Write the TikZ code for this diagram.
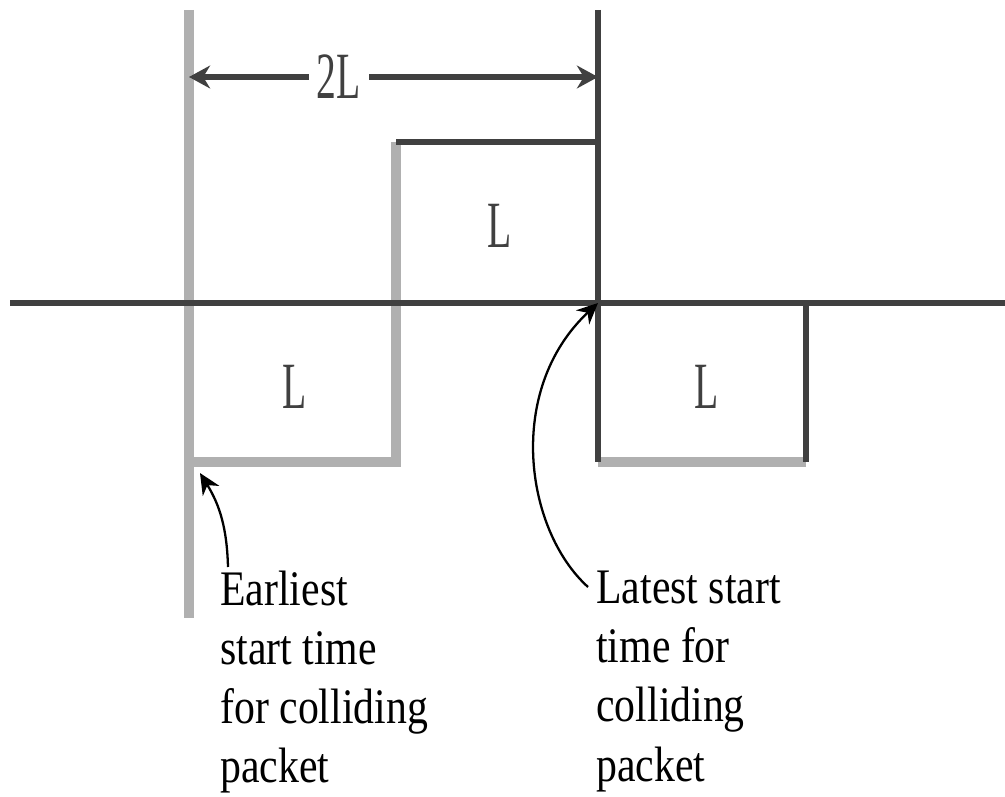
\documentclass[tikz,border=0pt]{standalone}
\usepackage{fontspec}
\usetikzlibrary{arrows.meta}
\newfontfamily\notefont[FakeStretch=0.84]{Liberation Serif}
\newfontfamily\tagfont[FakeStretch=0.6]{Liberation Serif}
\definecolor{linegray}{HTML}{B0B0B0}
\definecolor{linedark}{HTML}{404040}

\begin{document}
\begin{tikzpicture}[x=0.02cm,y=-0.02cm,
	grayline/.style={draw=linegray,line width=5.5pt},
	darkline/.style={draw=linedark,line width=3pt},
	dimarrow/.style={draw=linedark,line width=3pt,-{Stealth[length=12pt,width=13pt]}},
	pointer/.style={draw=black,line width=1.3pt,-{Stealth[length=12pt,width=11pt]}},
	tag/.style={font=\tagfont\fontsize{37.6}{40}\selectfont,text=linedark,inner sep=4.5pt},
	note/.style={font=\notefont\fontsize{28.3}{33.6}\selectfont,align=left,anchor=north west,inner sep=0pt}]
%
	\useasboundingbox (0,0) rectangle (1005,797);
	\coordinate (gtop) at (189,10);
	\coordinate (gbot) at (189,618);
	\coordinate (dtop) at (598,10);
	\coordinate (axl) at (10,303);
	\coordinate (axr) at (1005,303);
	\coordinate (mid) at (396,142);
	\coordinate (hit) at (598,303);
	\coordinate (rbox) at (806,303);
	\coordinate (etip) at (200,473);
%
	\draw[grayline] (gtop) -- (gbot);
	\draw[grayline] (mid) -- (396,462) -- (189,462);
	\draw[grayline] (598,462) -- (806,462);
	\draw[darkline] (mid) -- (598,142);
	\draw[darkline] (dtop) -- (598,462);
	\draw[darkline] (rbox) -- (806,462);
	\draw[darkline] (axl) -- (axr);
%
	\node[tag] (dimlbl) at (339,77) {2L};
	\draw[dimarrow] (dimlbl) -- (dimlbl -| gtop);
	\draw[dimarrow] (dimlbl) -- (dimlbl -| dtop);
	\node[tag] (upper) at (500,226) {L};
	\node[tag] (lower) at (295,387) {L};
	\node[tag] (right) at (707,387) {L};
%
	\node[note] (earliest) at (220,571) {Earliest\\start time\\for colliding\\packet};
	\node[note] (latest) at (596,571) {Latest start\\time for\\colliding\\packet};
	\draw[pointer] ([shift={(8,-4)}]earliest.north west) to[bend right=15] (etip);
	\draw[pointer] ([shift={(-8,16)}]latest.north west) .. controls (525,530) and (505,390) .. (hit);
%
\end{tikzpicture}
\end{document}
